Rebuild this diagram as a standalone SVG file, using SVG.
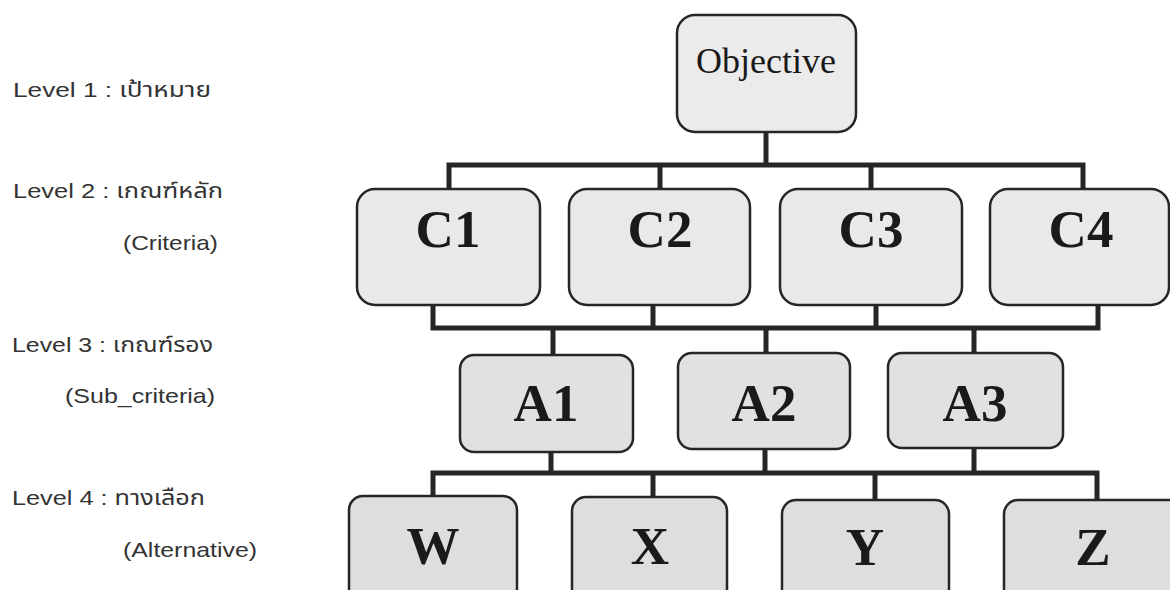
<svg xmlns="http://www.w3.org/2000/svg" width="1170" height="590" viewBox="0 0 1170 590">
<style>
.lbl{font-family:"Liberation Sans","Noto Sans Thai","Noto Sans",sans-serif;font-size:21px;fill:#333}
.box{stroke:#262626;stroke-width:2.5}
.l1{fill:#ebebeb}
.l2{fill:#e9e9e9}
.l3{fill:#e1e1e1}
.l4{fill:#dedede}
.t{font-family:"Liberation Serif","Times New Roman",serif;fill:#1a1a1a;text-anchor:middle}
.tb{font-weight:bold;font-size:53px}
.conn{fill:none;stroke:#262626;stroke-width:5;stroke-linejoin:miter;stroke-linecap:square}
</style>
<rect width="1170" height="590" fill="#ffffff"/>
<g id="labels">
<text class="lbl" x="13" y="97" textLength="198" lengthAdjust="spacingAndGlyphs">Level 1 : เป้าหมาย</text>
<text class="lbl" x="13" y="198" textLength="210" lengthAdjust="spacingAndGlyphs">Level 2 : เกณฑ์หลัก</text>
<text class="lbl" x="123" y="250" textLength="95" lengthAdjust="spacingAndGlyphs">(Criteria)</text>
<text class="lbl" x="12" y="352" textLength="201" lengthAdjust="spacingAndGlyphs">Level 3 : เกณฑ์รอง</text>
<text class="lbl" x="65" y="403" textLength="150" lengthAdjust="spacingAndGlyphs">(Sub_criteria)</text>
<text class="lbl" x="12" y="505" textLength="193" lengthAdjust="spacingAndGlyphs">Level 4 : ทางเลือก</text>
<text class="lbl" x="123" y="557" textLength="134" lengthAdjust="spacingAndGlyphs">(Alternative)</text>
</g>
<g id="connectors">
<path class="conn" d="M766 132 V165 M449 189 V165 H1083 V189 M660 165 V189 M871 165 V189"/>
<path class="conn" d="M433 305 V328 H1098 V305 M653 305 V328 M876 305 V328 M553 328 V355 M766 328 V353 M974 328 V353"/>
<path class="conn" d="M551 452 V473 M765 449 V473 M974 448 V473 M433 497 V473 H1097 V500 M653 473 V497 M875 473 V500"/>
</g>
<g id="objective">
<rect class="box l1" x="677" y="15" width="179" height="117" rx="18"/>
<text class="t" x="766" y="73" font-size="36">Objective</text>
</g>
<g id="c1">
<rect class="box l2" x="357" y="189" width="183" height="116" rx="18"/>
<text class="t tb" x="448" y="247">C1</text>
</g>
<g id="c2">
<rect class="box l2" x="569" y="189" width="181" height="116" rx="18"/>
<text class="t tb" x="660" y="247">C2</text>
</g>
<g id="c3">
<rect class="box l2" x="780" y="189" width="182" height="116" rx="18"/>
<text class="t tb" x="871" y="247">C3</text>
</g>
<g id="c4">
<rect class="box l2" x="990" y="189" width="179" height="116" rx="18"/>
<text class="t tb" x="1081" y="247">C4</text>
</g>
<g id="a1">
<rect class="box l3" x="460" y="355" width="173" height="97" rx="14"/>
<text class="t tb" x="546" y="421">A1</text>
</g>
<g id="a2">
<rect class="box l3" x="678" y="353" width="172" height="96" rx="14"/>
<text class="t tb" x="764" y="421">A2</text>
</g>
<g id="a3">
<rect class="box l3" x="888" y="353" width="175" height="95" rx="14"/>
<text class="t tb" x="975" y="421">A3</text>
</g>
<g id="w">
<rect class="box l4" x="349" y="496" width="168" height="120" rx="14"/>
<text class="t tb" x="433" y="564">W</text>
</g>
<g id="x">
<rect class="box l4" x="572" y="497" width="155" height="120" rx="14"/>
<text class="t tb" x="650" y="564">X</text>
</g>
<g id="y">
<rect class="box l4" x="782" y="500" width="167" height="120" rx="14"/>
<text class="t tb" x="865" y="565">Y</text>
</g>
<g id="z">
<rect class="box l4" x="1004" y="500" width="180" height="120" rx="14"/>
<text class="t tb" x="1093" y="565">Z</text>
</g>
</svg>
